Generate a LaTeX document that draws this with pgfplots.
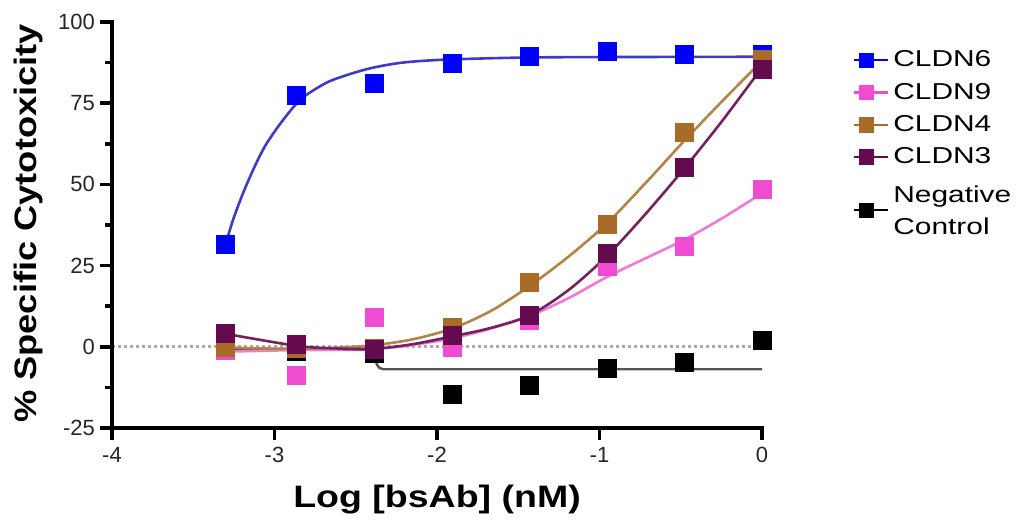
\documentclass[border=0pt]{standalone}
\usepackage{fontspec}
\setmainfont{Liberation Sans}
\newfontfamily\labfont{Liberation Sans}[FakeStretch=1.17]
\newfontfamily\xlabfont{Liberation Sans}[FakeStretch=1.21]
\newfontfamily\legfont{Liberation Sans}[FakeStretch=1.3]
\usepackage{pgfplots}
\pgfplotsset{compat=1.18}
\definecolor{cblue}{HTML}{0000FF}
\definecolor{cbluel}{HTML}{3C3CC8}
\definecolor{cpink}{HTML}{F04CD2}
\definecolor{cpinkl}{HTML}{F07AD8}
\definecolor{cbrown}{HTML}{A86C28}
\definecolor{cbrownl}{HTML}{B48446}
\definecolor{cpurp}{HTML}{650A4E}
\definecolor{cpurpl}{HTML}{752060}
\definecolor{cgrayl}{HTML}{555555}
\begin{document}
\begin{tikzpicture}
\useasboundingbox (-56pt,-46pt) rectangle (457pt,214pt);
\begin{axis}[
  at={(0,0)}, anchor=south west,
  width=325pt, height=203pt, scale only axis,
  xmin=-4, xmax=0, ymin=-25, ymax=100,
  axis x line*=bottom, axis y line*=left,
  axis line style={draw=none},
  clip=false,
  xtick={-4,-3,-2,-1,0},
  ytick={-25,0,25,50,75,100},
  major tick length=0pt, minor tick length=0pt,
  tick label style={font=\fontsize{11}{13}\selectfont, text=black!85},
  xticklabel style={yshift=-6pt},
  yticklabel style={xshift=-5pt},
  /pgf/number format/assume math mode=true,
  xlabel={\xlabfont\bfseries\fontsize{15.5}{18}\selectfont Log [bsAb] (nM)},
  ylabel={\labfont\bfseries\fontsize{15.5}{18}\selectfont \% Specific Cytotoxicity},
  xlabel style={at={(axis description cs:0.5,-0.197)}, anchor=base},
  ylabel style={at={(axis description cs:-0.129,0.504)}, anchor=center},
  legend image code/.code={\draw[mark repeat=2,mark phase=2,#1] plot coordinates {(0pt,0pt) (6.25pt,0pt) (12.5pt,0pt)}; \path (0pt,0pt) -- (17pt,0pt);},
  legend style={at={(axis description cs:1.1300,0.950)}, anchor=north west, draw=none, fill=none,
    font=\legfont\fontsize{11.5}{16}\selectfont, row sep=2.6pt},
  legend cell align=left,
]
% zero reference line
\addplot[forget plot, gray!65, line width=1.5pt, dash pattern=on 1.5pt off 1.5pt] coordinates {(-4,0) (0,0)};

% Negative Control
\addplot[forget plot, cgrayl, line width=1.2pt] coordinates {
(-3.301,-0.8) (-2.42,-1.0) (-2.395,-1.6) (-2.38,-3.5) (-2.37,-5.5) (-2.355,-6.5) (-2.33,-6.9) (0,-6.9)};
\addplot[forget plot, only marks, mark=square*, mark size=4.5pt, line width=0.4pt, black] coordinates {
(-3.301,0) (-2.863,-1.5) (-2.386,-2.0) (-1.908,-14.5) (-1.431,-11.8) (-0.954,-6.7) (-0.477,-4.8) (0,2.1)};

% CLDN6
\addplot[forget plot, cbluel, line width=1.3pt, smooth] coordinates {
(-3.301,31.6) (-3.255,39.1) (-3.20,46.5) (-3.151,52.3) (-3.10,57.8) (-3.046,62.8) (-2.948,69.8)
(-2.843,76.0) (-2.74,79.6) (-2.640,82.2) (-2.431,85.5) (-2.228,87.4) (-2.0,88.3) (-1.7,88.8)
(-1.4,89.1) (-1.0,89.2) (0,89.3)};
\addplot[forget plot, only marks, mark=square*, mark size=4.5pt, line width=0.4pt, cblue] coordinates {
(-3.301,31.6) (-2.863,77.3) (-2.386,81.1) (-1.908,87.2) (-1.431,89.4) (-0.954,90.8) (-0.477,90.0) (0,90.1)};

% CLDN9
\addplot[forget plot, cpinkl, line width=1.3pt, smooth] coordinates {
(-3.301,-1.5) (-2.863,-1.0) (-2.386,-0.6) (-2.15,0.6) (-1.908,2.6) (-1.67,5.6) (-1.431,9.5)
(-1.19,15.0) (-0.954,21.5) (-0.715,27.3) (-0.477,33.0) (-0.238,39.8) (0,47.3)};
\addplot[forget plot, only marks, mark=square*, mark size=4.5pt, line width=0.4pt, cpink] coordinates {
(-3.301,-1.2) (-2.863,-8.8) (-2.386,9.0) (-1.908,-0.1) (-1.431,8.0) (-0.954,24.8) (-0.477,30.9) (0,48.4)};

% CLDN4
\addplot[forget plot, cbrownl, line width=1.3pt, smooth] coordinates {
(-3.301,-0.2) (-3.08,-0.5) (-2.863,-0.6) (-2.62,-0.3) (-2.386,0.5) (-2.15,2.3) (-1.908,5.6)
(-1.67,11.0) (-1.431,18.7) (-1.19,27.8) (-0.954,38.0) (-0.715,50.5) (-0.477,63.5) (-0.238,76.0) (0,88.0)};
\addplot[forget plot, only marks, mark=square*, mark size=4.5pt, line width=0.4pt, cbrown] coordinates {
(-3.301,-0.2) (-2.863,-0.5) (-2.386,-0.5) (-1.908,6.0) (-1.431,19.8) (-0.954,37.7) (-0.477,66.0) (0,88.5)};

% CLDN3
\addplot[forget plot, cpurpl, line width=1.3pt, smooth] coordinates {
(-3.301,4.0) (-2.863,0.3) (-2.62,-0.5) (-2.386,-0.6) (-2.15,0.8) (-1.908,3.2) (-1.67,5.8)
(-1.431,9.7) (-1.19,17.5) (-0.954,28.0) (-0.715,41.0) (-0.477,55.0) (-0.238,70.0) (0,86.0)};
\addplot[forget plot, only marks, mark=square*, mark size=4.5pt, line width=0.4pt, cpurp] coordinates {
(-3.301,4.1) (-2.863,0.6) (-2.386,-0.7) (-1.908,3.4) (-1.431,9.7) (-0.954,28.7) (-0.477,55.3) (0,85.5)};

% axis lines and ticks
\draw[line width=2.2pt, black, line cap=rect] (rel axis cs:0,0) -- (rel axis cs:1,0);
\draw[line width=2.2pt, black, line cap=rect] (rel axis cs:0,0) -- (rel axis cs:0,1);
\pgfplotsinvokeforeach{-4,-3,-2,-1,0}{\draw[line width=1.8pt, black] (axis cs:#1,-25) -- ++(0pt,-6pt);}
\pgfplotsinvokeforeach{-25,0,25,50,75,100}{\draw[line width=1.8pt, black] (axis cs:-4,#1) -- ++(-6pt,0pt);}
\pgfplotsinvokeforeach{-12.5,12.5,37.5,62.5,87.5}{\draw[line width=1.8pt, black] (axis cs:-4,#1) -- ++(-3.5pt,0pt);}

% legend
\addlegendimage{cblue, line width=1.2pt, mark=square*, mark size=3.6pt, mark options={line width=0.4pt}}
\addlegendentry{CLDN6}
\addlegendimage{cpink, line width=1.2pt, mark=square*, mark size=3.6pt, mark options={line width=0.4pt}}
\addlegendentry{CLDN9}
\addlegendimage{cbrown, line width=1.2pt, mark=square*, mark size=3.6pt, mark options={line width=0.4pt}}
\addlegendentry{CLDN4}
\addlegendimage{cpurp, line width=1.2pt, mark=square*, mark size=3.6pt, mark options={line width=0.4pt}}
\addlegendentry{CLDN3}
\addlegendimage{black, line width=1.2pt, mark=square*, mark size=3.6pt, mark options={line width=0.4pt}, yshift=-5pt}
\addlegendentry{\begin{tabular}{@{}l@{}}Negative\\Control\end{tabular}}
\end{axis}
\end{tikzpicture}
\end{document}
